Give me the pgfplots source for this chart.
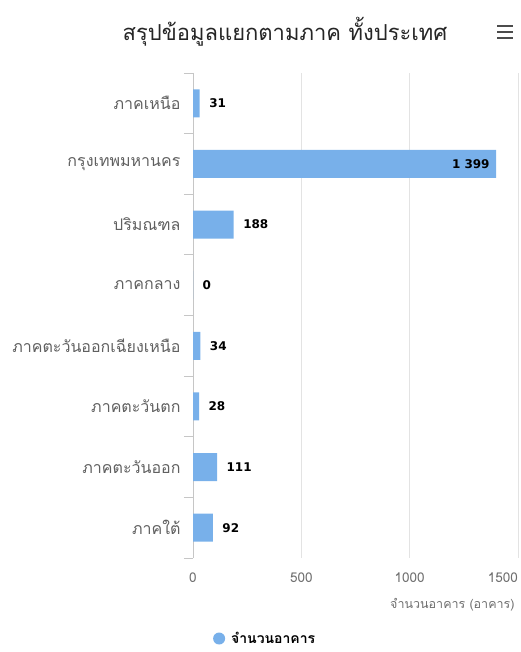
\documentclass[border=0pt]{standalone}
\usepackage{pgfplots}
\pgfplotsset{compat=1.18}
\usepackage{fontspec}
\setmainfont[Script=Thai]{Loma}
\newfontfamily\numfont{DejaVu Sans}
\definecolor{barblue}{RGB}{120,176,234}
\definecolor{labgray}{RGB}{96,96,96}
\definecolor{tickgray}{RGB}{110,110,110}
\pgfplotstableread{
x y lab
31 0 31
188 2 188
0 3 0
34 4 34
28 5 28
111 6 111
92 7 92
}\smalltab
\begin{document}
\begin{tikzpicture}[x=1pt,y=1pt]
\useasboundingbox (0,0) rectangle (520,652);
\node[font=\fontsize{22}{24}\selectfont, text=black!85] at (285,620) {สรุปข้อมูลแยกตามภาค ทั้งประเทศ};
\foreach \yy in {614,620,626} \draw[line width=2.6pt, black!70] (497,\yy) -- (513,\yy);
\begin{axis}[at={(193pt,94pt)}, anchor=south west, scale only axis,
  width=325pt, height=485pt,
  xbar, bar width=28pt, bar shift=0pt,
  xmin=0, xmax=1500, ymin=-0.5, ymax=7.5, y dir=reverse,
  axis line style={draw=none},
  xtick={0,500,1000,1500},
  xticklabels={0,500,1000,\makebox[0pt][r]{1500}},
  ytick={0,...,7},
  yticklabels={ภาคเหนือ,กรุงเทพมหานคร,ปริมณฑล,ภาคกลาง,ภาคตะวันออกเฉียงเหนือ,ภาคตะวันตก,ภาคตะวันออก,ภาคใต้},
  minor ytick={-0.5,0.5,...,7.5},
  major tick length=0pt, minor tick length=9pt, tick align=outside,
  ytick pos=left, xtick pos=bottom,
  xtick style={draw=none},
  ytick style={draw=gray!45, line width=0.8pt},
  xmajorgrids, grid style={gray!22, line width=0.8pt},
  extra x ticks={0}, extra x tick labels={},
  extra x tick style={grid style={gray!45, line width=0.8pt}},
  yticklabel style={font=\fontsize{16}{17}\selectfont, text=labgray, xshift=-9pt},
  xticklabel style={font=\fontsize{13.5}{14}\selectfont, text=tickgray, yshift=-11pt},
  xlabel={จำนวนอาคาร (อาคาร)},
  xlabel style={at={(axis description cs:1,-0.096)}, anchor=east, font=\fontsize{12.5}{14}\selectfont, text=tickgray},
  legend style={at={(0.222,-0.166)}, anchor=center, draw=none, inner sep=1pt, font=\fontsize{14}{15}\selectfont\bfseries},
  legend image code/.code={\fill[barblue] (0.05cm,0cm) circle (6pt);},
  clip=false,
]
\addplot[fill=barblue, draw=none] coordinates {(31,0) (1399,1) (188,2) (0,3) (34,4) (28,5) (111,6) (92,7)};
\addlegendentry{\hspace{4pt}จำนวนอาคาร}
\addplot[draw=none, fill=none, forget plot, point meta=explicit symbolic,
  nodes near coords, nodes near coords style={font=\numfont\bfseries\fontsize{12}{12}\selectfont, text=black, anchor=west, xshift=6pt}]
  table[x=x, y=y, meta=lab] {\smalltab};
\addplot[draw=none, fill=none, forget plot, nodes near coords={1\ 399},
  nodes near coords style={font=\numfont\bfseries\fontsize{12}{12}\selectfont, text=black, anchor=east, xshift=-3pt}]
  coordinates {(1399,1)};
\end{axis}
\end{tikzpicture}
\end{document}
